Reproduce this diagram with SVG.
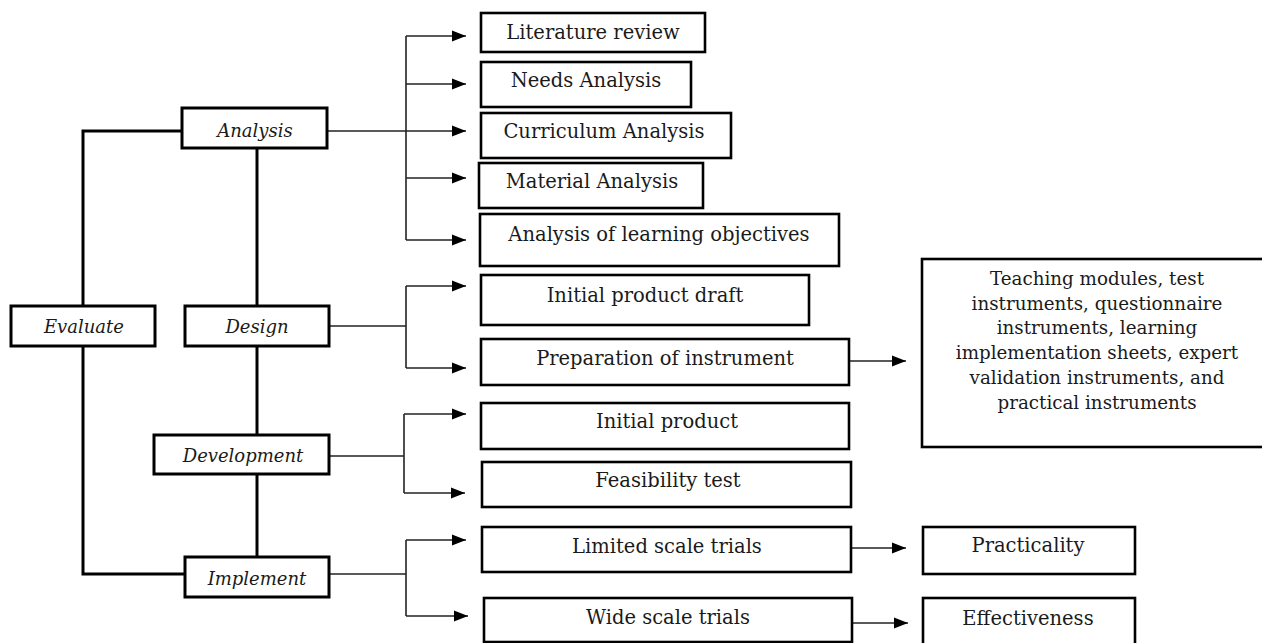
<svg xmlns="http://www.w3.org/2000/svg" width="1262" height="643" viewBox="0 0 1262 643">
<style>
.box{fill:#fff;stroke:#000;stroke-width:2.6}
.main{fill:#fff;stroke:#000;stroke-width:3}
.t{font-family:"DejaVu Serif","Liberation Serif",serif;font-size:19.5px;fill:#1a1a1a;text-anchor:middle}
.ti{font-family:"DejaVu Serif","Liberation Serif",serif;font-size:18px;font-style:italic;fill:#1a1a1a;text-anchor:middle}
.tb{font-family:"DejaVu Serif","Liberation Serif",serif;font-size:18.3px;fill:#1a1a1a;text-anchor:middle}
.thick{fill:none;stroke:#000;stroke-width:3}
.thin{fill:none;stroke:#222;stroke-width:1.6}
.arr{fill:none;stroke:#222;stroke-width:1.6;marker-end:url(#ah)}
</style>
<defs>
<marker id="ah" markerUnits="userSpaceOnUse" markerWidth="15" markerHeight="12" refX="14" refY="6" orient="auto">
<path d="M0,0.5 L14,6 L0,11.5 z" fill="#000"/>
</marker>
</defs>
<rect width="1262" height="643" fill="#fff"/>
<g id="connectors">
<polyline class="thick" points="182,131 83,131 83,306"/>
<line class="thick" x1="257" y1="148" x2="257" y2="306"/>
<polyline class="thick" points="83,346 83,574 185,574"/>
<line class="thick" x1="257" y1="346" x2="257" y2="435"/>
<line class="thick" x1="257" y1="474" x2="257" y2="557"/>
<line class="thin" x1="327" y1="131" x2="406" y2="131"/>
<line class="thin" x1="406" y1="36" x2="406" y2="240"/>
<line class="arr" x1="406" y1="36" x2="466" y2="36"/>
<line class="arr" x1="406" y1="84" x2="466" y2="84"/>
<line class="arr" x1="406" y1="131" x2="466" y2="131"/>
<line class="arr" x1="406" y1="178" x2="466" y2="178"/>
<line class="arr" x1="406" y1="240" x2="466" y2="240"/>
<line class="thin" x1="329" y1="326" x2="406" y2="326"/>
<line class="thin" x1="406" y1="286" x2="406" y2="368"/>
<line class="arr" x1="406" y1="286" x2="466" y2="286"/>
<line class="arr" x1="406" y1="368" x2="466" y2="368"/>
<line class="thin" x1="329" y1="456" x2="404" y2="456"/>
<line class="thin" x1="404" y1="414" x2="404" y2="493"/>
<line class="arr" x1="404" y1="414" x2="466" y2="414"/>
<line class="arr" x1="404" y1="493" x2="465" y2="493"/>
<line class="thin" x1="329" y1="574" x2="406" y2="574"/>
<line class="thin" x1="406" y1="540" x2="406" y2="616"/>
<line class="arr" x1="406" y1="540" x2="466" y2="540"/>
<line class="arr" x1="406" y1="616" x2="468" y2="616"/>
<line class="arr" x1="849" y1="361" x2="906" y2="361"/>
<line class="arr" x1="851" y1="548" x2="906" y2="548"/>
<line class="arr" x1="852" y1="623" x2="908" y2="623"/>
</g>
<g id="analysis"><rect class="main" x="182" y="108" width="145" height="40"/><text class="ti" x="255" y="137">Analysis</text></g>
<g id="evaluate"><rect class="main" x="11" y="306" width="144" height="40"/><text class="ti" x="84" y="333">Evaluate</text></g>
<g id="design"><rect class="main" x="185" y="306" width="144" height="40"/><text class="ti" x="257" y="333">Design</text></g>
<g id="development"><rect class="main" x="154" y="435" width="175" height="39"/><text class="ti" x="243" y="462">Development</text></g>
<g id="implement"><rect class="main" x="185" y="557" width="144" height="40"/><text class="ti" x="257" y="585">Implement</text></g>
<g id="literature-review"><rect class="box" x="481" y="13" width="224" height="39"/><text class="t" x="593" y="39">Literature review</text></g>
<g id="needs-analysis"><rect class="box" x="481" y="62" width="210" height="45"/><text class="t" x="586" y="87">Needs Analysis</text></g>
<g id="curriculum-analysis"><rect class="box" x="481" y="113" width="250" height="45"/><text class="t" x="604" y="138">Curriculum Analysis</text></g>
<g id="material-analysis"><rect class="box" x="479" y="163" width="224" height="45"/><text class="t" x="592" y="188">Material Analysis</text></g>
<g id="learning-objectives"><rect class="box" x="480" y="214" width="359" height="52"/><text class="t" x="659" y="241">Analysis of learning objectives</text></g>
<g id="initial-product-draft"><rect class="box" x="481" y="275" width="328" height="50"/><text class="t" x="645" y="302">Initial product draft</text></g>
<g id="preparation-instrument"><rect class="box" x="481" y="339" width="368" height="46"/><text class="t" x="665" y="365">Preparation of instrument</text></g>
<g id="initial-product"><rect class="box" x="481" y="403" width="368" height="46"/><text class="t" x="667" y="428">Initial product</text></g>
<g id="feasibility-test"><rect class="box" x="482" y="462" width="369" height="45"/><text class="t" x="668" y="487">Feasibility test</text></g>
<g id="limited-trials"><rect class="box" x="482" y="527" width="369" height="45"/><text class="t" x="667" y="553">Limited scale trials</text></g>
<g id="wide-trials"><rect class="box" x="484" y="598" width="368" height="44"/><text class="t" x="668" y="624">Wide scale trials</text></g>
<g id="instruments"><rect class="box" x="922" y="259" width="348" height="188"/>
<text class="tb" x="1097" y="285">Teaching modules, test</text>
<text class="tb" x="1097" y="310">instruments, questionnaire</text>
<text class="tb" x="1097" y="334">instruments, learning</text>
<text class="tb" x="1097" y="359">implementation sheets, expert</text>
<text class="tb" x="1097" y="384">validation instruments, and</text>
<text class="tb" x="1097" y="409">practical instruments</text>
</g>
<g id="practicality"><rect class="box" x="923" y="527" width="212" height="47"/><text class="t" x="1028" y="552">Practicality</text></g>
<g id="effectiveness"><rect class="box" x="923" y="598" width="212" height="50"/><text class="t" x="1028" y="625">Effectiveness</text></g>
</svg>
